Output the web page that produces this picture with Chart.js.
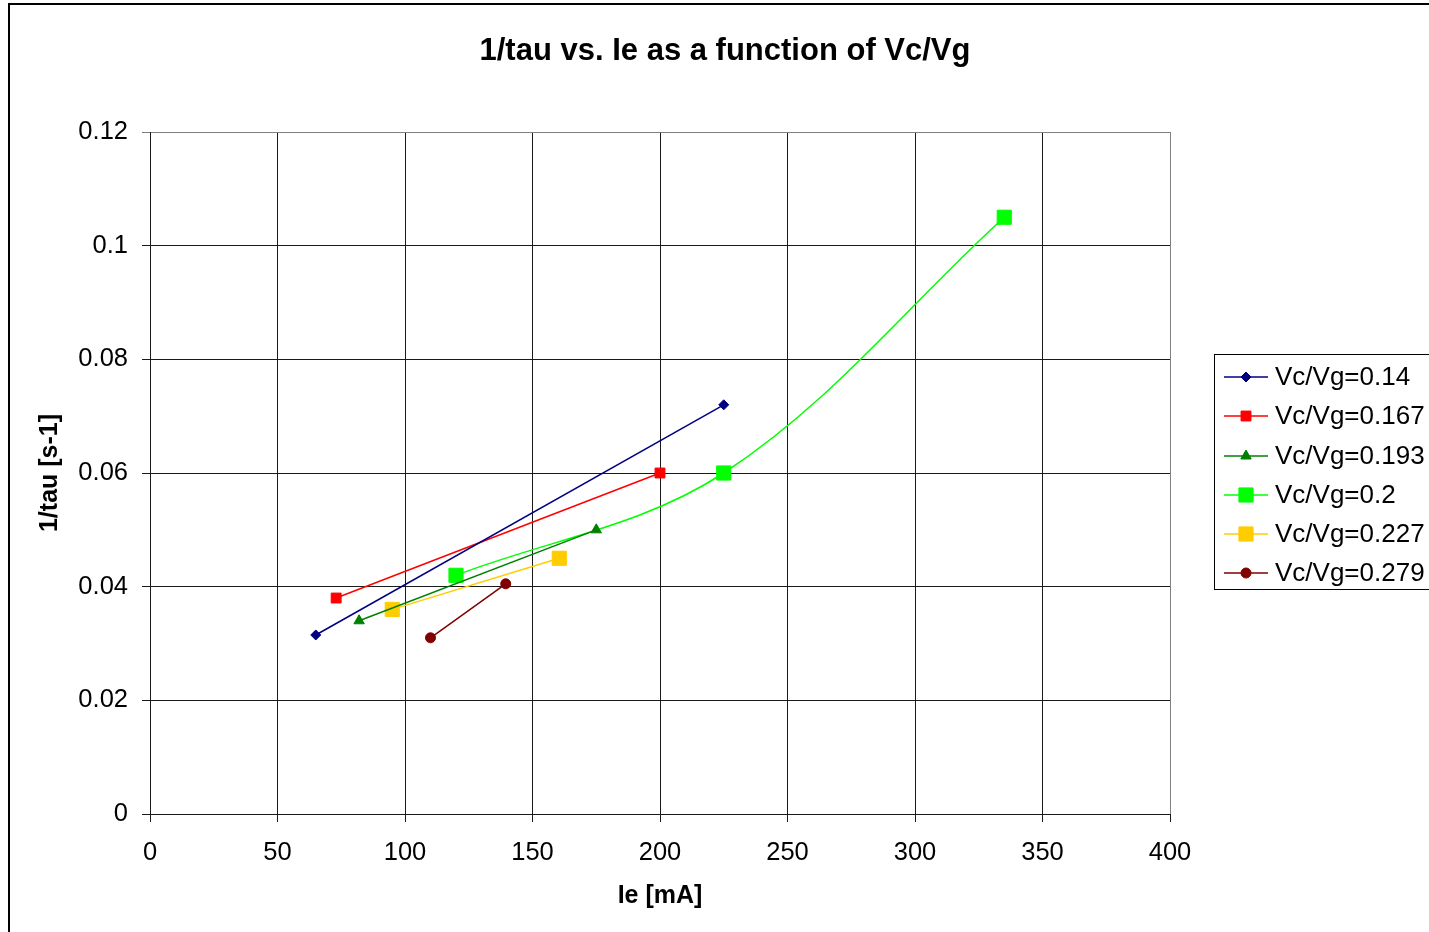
<!DOCTYPE html>
<html>
<head>
<meta charset="utf-8">
<script src="https://cdn.jsdelivr.net/npm/chart.js@4/dist/chart.umd.min.js"></script>
<style>
  html, body { margin: 0; padding: 0; background: #fff; overflow: hidden; }
  #wrap { position: absolute; left: 0; top: 0; width: 1429px; height: 932px; }
</style>
</head>
<body>
<div id="wrap"><canvas id="c" width="1429" height="932"></canvas></div>
<script>
// Measured decay rate 1/tau versus emitter current Ie for several Vc/Vg ratios
const seriesLabels = ['Vc/Vg=0.14', 'Vc/Vg=0.167', 'Vc/Vg=0.193', 'Vc/Vg=0.2', 'Vc/Vg=0.227', 'Vc/Vg=0.279'];

const ie_014  = [65, 225];
const tau_014 = [0.0315, 0.072];

const ie_0167  = [73, 200];
const tau_0167 = [0.038, 0.060];

const ie_0193  = [82, 175];
const tau_0193 = [0.034, 0.050];

const ie_02  = [120, 225, 335];
const tau_02 = [0.042, 0.060, 0.105];

const ie_0227  = [95, 160.5];
const tau_0227 = [0.036, 0.045];

const ie_0279  = [110, 139.5];
const tau_0279 = [0.031, 0.0405];

const xTickLabels = ['0', '50', '100', '150', '200', '250', '300', '350', '400'];
const yTickLabels = ['0', '0.02', '0.04', '0.06', '0.08', '0.1', '0.12'];

const FONT = "'Liberation Sans', Arial, Helvetica, sans-serif";

function pts(xs, ys) { return xs.map((x, i) => ({ x: x, y: ys[i] })); }

const styles = [
  { color: '#000080', pointStyle: 'rectRot',  radius: 5,  tension: 0 },
  { color: '#FF0000', pointStyle: 'rect',     radius: 7,  tension: 0 },
  { color: '#008000', pointStyle: 'triangle', radius: 6,  tension: 0 },
  { color: '#00FF00', pointStyle: 'rect',     radius: 10, tension: 0.35 },
  { color: '#FFCC00', pointStyle: 'rect',     radius: 10, tension: 0 },
  { color: '#800000', pointStyle: 'circle',   radius: 5,  tension: 0 }
];

const seriesData = [
  pts(ie_014, tau_014),
  pts(ie_0167, tau_0167),
  pts(ie_0193, tau_0193),
  pts(ie_02, tau_02),
  pts(ie_0227, tau_0227),
  pts(ie_0279, tau_0279)
];

const datasets = seriesData.map((d, i) => ({
  label: seriesLabels[i],
  data: d,
  borderColor: styles[i].color,
  backgroundColor: styles[i].color,
  borderWidth: 1.5,
  pointStyle: styles[i].pointStyle,
  pointRadius: styles[i].radius,
  pointHoverRadius: styles[i].radius,
  pointBorderWidth: 1,
  pointBackgroundColor: styles[i].color,
  pointBorderColor: styles[i].color,
  tension: styles[i].tension,
  fill: false
}));

// Outer frame, centred title and boxed legend on the right
const decorations = {
  id: 'decorations',
  beforeDraw(chart) {
    const ctx = chart.ctx;
    ctx.save();
    ctx.fillStyle = '#fff';
    ctx.fillRect(0, 0, chart.width, chart.height);
    ctx.restore();
  },
  afterDraw(chart) {
    const ctx = chart.ctx;
    ctx.save();
    // frame
    ctx.strokeStyle = '#000';
    ctx.lineWidth = 2;
    ctx.beginPath();
    ctx.moveTo(9, chart.height + 5);
    ctx.lineTo(9, 4);
    ctx.lineTo(chart.width + 5, 4);
    ctx.stroke();

    // title
    ctx.fillStyle = '#000';
    ctx.font = 'bold 31px ' + FONT;
    ctx.textAlign = 'center';
    ctx.textBaseline = 'alphabetic';
    ctx.fillText('1/tau vs. Ie as a function of Vc/Vg', 725, 60);

    // legend box
    ctx.strokeStyle = '#000';
    ctx.lineWidth = 1;
    ctx.strokeRect(1214.5, 354.5, 300, 235);

    ctx.font = '26px ' + FONT;
    ctx.textAlign = 'left';
    ctx.textBaseline = 'middle';
    chart.data.datasets.forEach((ds, i) => {
      const y = Math.round(377.3 + 39.1 * i);
      ctx.strokeStyle = ds.borderColor;
      ctx.lineWidth = 1.5;
      ctx.beginPath();
      ctx.moveTo(1224, y);
      ctx.lineTo(1268, y);
      ctx.stroke();
      ctx.fillStyle = ds.pointBackgroundColor;
      ctx.strokeStyle = ds.pointBorderColor;
      ctx.lineWidth = 1;
      Chart.helpers.drawPoint(ctx, {
        pointStyle: ds.pointStyle,
        radius: ds.pointRadius,
        rotation: 0,
        borderWidth: 1
      }, 1246, y);
      ctx.fillStyle = '#000';
      ctx.fillText(ds.label, 1275, y + 1);
    });
    ctx.restore();
  }
};

const gridColor = (edgeValue) => (c) => (c.tick && Math.abs(c.tick.value - edgeValue) < 1e-9) ? '#808080' : '#1a1a1a';

new Chart(document.getElementById('c'), {
  type: 'line',
  data: { datasets: datasets },
  options: {
    responsive: false,
    animation: false,
    devicePixelRatio: 1,
    layout: { padding: { left: 0, right: 259, top: 132, bottom: 0 } },
    plugins: {
      legend: { display: false },
      title: { display: false },
      tooltip: { enabled: false }
    },
    scales: {
      x: {
        type: 'linear',
        min: 0,
        max: 400,
        afterFit: (s) => { s.height = 118; },
        ticks: {
          stepSize: 50,
          color: '#000',
          padding: 16,
          font: { family: FONT, size: 25.5 },
          maxRotation: 0,
          callback: (v, i) => xTickLabels[i]
        },
        grid: {
          color: gridColor(400),
          tickColor: '#1a1a1a',
          lineWidth: 1,
          tickLength: 8
        },
        border: { color: '#1a1a1a', width: 1 },
        title: {
          display: true,
          text: 'Ie [mA]',
          color: '#000',
          font: { family: FONT, size: 25, weight: 'bold' },
          padding: { top: 21, bottom: 21 }
        }
      },
      y: {
        type: 'linear',
        min: 0,
        max: 0.12,
        afterFit: (s) => { s.width = 150; },
        ticks: {
          stepSize: 0.02,
          color: '#000',
          padding: 14,
          font: { family: FONT, size: 25.5 },
          callback: (v, i) => yTickLabels[i]
        },
        grid: {
          color: gridColor(0.12),
          tickColor: gridColor(0.12),
          lineWidth: 1,
          tickLength: 8
        },
        border: { color: '#1a1a1a', width: 1 },
        title: {
          display: true,
          text: '1/tau [s-1]',
          color: '#000',
          font: { family: FONT, size: 25, weight: 'bold' },
          padding: { top: 35, bottom: 0 }
        }
      }
    }
  },
  plugins: [decorations]
});
</script>
</body>
</html>
